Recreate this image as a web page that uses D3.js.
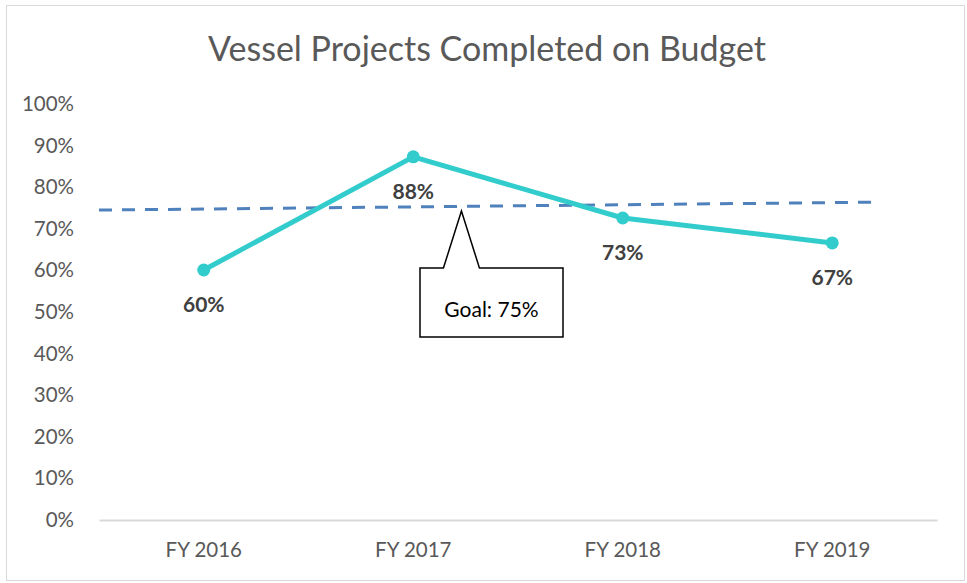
<!DOCTYPE html>
<html>
<head>
<meta charset="utf-8">
<script src="https://cdn.jsdelivr.net/npm/d3@7"></script>
<style>
  body { margin: 0; background: #ffffff; }
  text { font-family: Lato, "Open Sans", sans-serif; }
</style>
</head>
<body>
<div id="main"></div>
<script>
const years = ["FY 2016", "FY 2017", "FY 2018", "FY 2019"];
const completedOnBudget = [60.1, 87.3, 72.6, 66.6];
const dataLabels = ["60%", "88%", "73%", "67%"];
const yTicks = [0, 10, 20, 30, 40, 50, 60, 70, 80, 90, 100];
// goal line endpoints: category position (index) and value
const goalPos = [-0.5, 3.2];
const goalValues = [74.5, 76.4];
const goalText = "Goal: 75%";
const titleText = "Vessel Projects Completed on Budget";

const ctx = {
    width : 967,
    height : 583,
    left : 99,
    right : 937,
    top : 104,
    bottom : 520,
    lineColor : "#33CCCC",
    goalColor : "#4F81BD",
    textGrey : "#595959",
    labelGrey : "#404040"
}

function createViz(){
    let svg = d3.select("#main").append("svg")
        .attr("width", ctx.width)
        .attr("height", ctx.height);

    // chart border
    svg.append("rect")
        .attr("x", 6.5)
        .attr("y", 5.5)
        .attr("width", 958)
        .attr("height", 575)
        .attr("fill", "white")
        .attr("stroke", "#d9d9d9")
        .attr("stroke-width", 1);

    svg.append("text")
        .attr("x", 487)
        .attr("y", 61)
        .attr("text-anchor", "middle")
        .attr("font-size", "34px")
        .attr("fill", ctx.textGrey)
        .text(titleText);

    let x = d3.scaleBand()
        .domain(years)
        .range([ctx.left, ctx.right]);
    let xi = d3.scaleLinear()
        .domain([-0.5, years.length - 0.5])
        .range([ctx.left, ctx.right]);
    let y = d3.scaleLinear()
        .domain([0, 100])
        .range([ctx.bottom, ctx.top]);

    // y axis labels only
    let yAxis = svg.append("g")
        .attr("transform", "translate(" + (ctx.left - 22) + ",0)")
        .call(d3.axisLeft(y).tickValues(yTicks).tickFormat(d => d + "%").tickSize(0));
    yAxis.select(".domain").remove();
    yAxis.selectAll("text")
        .attr("font-family", "Lato, 'Open Sans', sans-serif")
        .attr("font-size", "20.5px")
        .attr("fill", ctx.textGrey);

    // x axis
    let xAxis = svg.append("g")
        .attr("transform", "translate(0," + ctx.bottom + ")")
        .call(d3.axisBottom(x).tickSize(0).tickPadding(22));
    xAxis.select(".domain")
        .attr("stroke", "#d9d9d9")
        .attr("stroke-width", 2);
    xAxis.selectAll("text")
        .attr("font-family", "Lato, 'Open Sans', sans-serif")
        .attr("font-size", "20.5px")
        .attr("fill", ctx.textGrey);

    // goal line
    svg.append("line")
        .attr("x1", xi(goalPos[0]))
        .attr("y1", y(goalValues[0]))
        .attr("x2", xi(goalPos[1]))
        .attr("y2", y(goalValues[1]))
        .attr("stroke", ctx.goalColor)
        .attr("stroke-width", 3)
        .attr("stroke-dasharray", "13,10");

    // main series
    let line = d3.line()
        .x((d, i) => x(years[i]) + x.bandwidth() / 2)
        .y(d => y(d));
    svg.append("path")
        .datum(completedOnBudget)
        .attr("d", line)
        .attr("fill", "none")
        .attr("stroke", ctx.lineColor)
        .attr("stroke-width", 5)
        .attr("stroke-linejoin", "round");
    svg.selectAll(".pt")
        .data(completedOnBudget)
        .enter()
        .append("circle")
        .attr("class", "pt")
        .attr("cx", (d, i) => x(years[i]) + x.bandwidth() / 2)
        .attr("cy", d => y(d))
        .attr("r", 6.5)
        .attr("fill", ctx.lineColor);
    svg.selectAll(".lbl")
        .data(completedOnBudget)
        .enter()
        .append("text")
        .attr("class", "lbl")
        .attr("x", (d, i) => x(years[i]) + x.bandwidth() / 2)
        .attr("y", d => y(d) + 42)
        .attr("text-anchor", "middle")
        .attr("font-size", "21px")
        .attr("font-weight", "bold")
        .attr("fill", ctx.labelGrey)
        .text((d, i) => dataLabels[i]);

    // callout
    let cx = xi(1.23), cy = y(75) + 3;
    let box = {x0: 420, y0: 268, x1: 563, y1: 337};
    let callout = "M" + box.x0 + "," + box.y0
        + "L" + (cx - 18) + "," + box.y0
        + "L" + cx + "," + cy
        + "L" + (cx + 18) + "," + box.y0
        + "L" + box.x1 + "," + box.y0
        + "L" + box.x1 + "," + box.y1
        + "L" + box.x0 + "," + box.y1 + "Z";
    svg.append("path")
        .attr("d", callout)
        .attr("fill", "white")
        .attr("stroke", "black")
        .attr("stroke-width", 1.5);
    svg.append("text")
        .attr("x", (box.x0 + box.x1) / 2)
        .attr("y", 317)
        .attr("text-anchor", "middle")
        .attr("font-size", "21px")
        .attr("fill", "black")
        .text(goalText);
}

createViz();
</script>
</body>
</html>
